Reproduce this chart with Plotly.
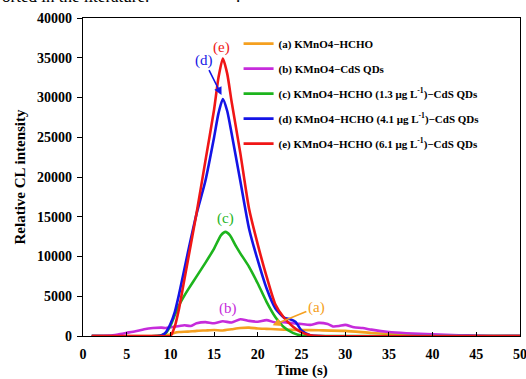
import plotly.graph_objects as go

# ---- data ----
time_a = [1, 8, 9, 10, 10.5, 11, 12, 13, 14, 15, 16, 17, 18, 19, 20, 21, 22, 23, 25, 27, 30, 33, 35, 38, 40, 45, 50]
val_a = [0, 0, 50, 200, 400, 500, 550, 650, 700, 750, 700, 850, 1000, 1050, 950, 900, 850, 800, 750, 720, 650, 380, 250, 100, 30, 0, 0]

time_b = [1, 3, 4, 5, 6, 7, 8, 9, 9.5, 10, 11, 11.6, 12.3, 13, 14, 15, 16, 17, 18, 19, 20, 21, 22, 23, 24, 25, 26, 27,
          28, 28.6, 29.3, 30, 31, 32, 33, 35, 37, 40, 43, 45, 47, 50]
val_b = [0, 50, 200, 400, 600, 850, 1000, 1050, 1000, 1100, 1250, 1350, 1250, 1600, 1750, 1600, 1850, 1700, 2100, 1900, 1800, 2000, 1700, 1750, 1600, 1500, 1400, 1650,
         1500, 1200, 1250, 1400, 1100, 1000, 800, 500, 350, 200, 100, 50, 0, 0]

time_c = [1, 8.5, 9, 9.5, 10, 10.5, 11, 11.5, 12, 13, 14, 15, 15.8, 16.3, 16.8, 17.5, 18, 19, 20, 21, 22, 23, 24, 25, 26, 50]
val_c = [0, 0, 100, 400, 1300, 2600, 3900, 4900, 5800, 7500, 9200, 11000, 12700, 13100, 12700, 11300, 10400, 8700, 6600, 4300, 2400, 1100, 400, 50, 0, 0]

time_d = [1, 8.5, 9, 9.5, 10, 10.5, 11, 12, 13, 14, 15, 15.5, 16, 16.5, 17, 18, 19, 20, 21, 22, 23, 23.7, 24.3, 25, 26, 27, 50]
val_d = [0, 0, 100, 500, 1500, 3000, 5300, 10500, 15400, 19500, 25000, 28000, 29800, 28300, 25500, 19500, 13500, 9500, 6000, 3500, 2300, 2100, 1800, 700, 100, 0, 0]

time_e = [1, 9, 10, 10.5, 11, 11.5, 12, 13, 14, 15, 15.5, 16, 16.5, 17, 18, 19, 20, 21, 22, 23, 24, 25, 26, 27, 50]
val_e = [0, 0, 0, 1200, 3500, 6500, 9500, 15500, 22000, 28500, 32500, 34900, 33000, 29500, 23000, 16000, 11500, 7500, 4000, 2300, 1200, 450, 100, 0, 0]

names = [
    "(a) KMnO4−HCHO",
    "(b) KMnO4−CdS QDs",
    "(c) KMnO4−HCHO (1.3 μg L<sup>-1</sup>)−CdS QDs",
    "(d) KMnO4−HCHO (4.1 μg L<sup>-1</sup>)−CdS QDs",
    "(e) KMnO4−HCHO (6.1 μg L<sup>-1</sup>)−CdS QDs",
]
colors = ["#F5A020", "#C62BDB", "#1DB41D", "#1414E6", "#F01616"]
series = [(time_a, val_a), (time_b, val_b), (time_c, val_c), (time_d, val_d), (time_e, val_e)]

x_ticks = [0, 5, 10, 15, 20, 25, 30, 35, 40, 45, 50]
y_ticks = [0, 5000, 10000, 15000, 20000, 25000, 30000, 35000, 40000]

FONT = "Liberation Serif, Times New Roman, serif"

fig = go.Figure()
for i, ((tx, ty), nm, col) in enumerate(zip(series, names, colors)):
    fig.add_trace(go.Scatter(
        x=tx, y=ty, mode="lines", name=nm, legendgroup=str(i),
        line=dict(color=col, width=2.6, shape="spline", smoothing=0.6),
    ))

ann_font = dict(family=FONT, size=15)
annotations = [
    dict(x=15.9, y=36250, text="(e)", showarrow=False, font=dict(ann_font, color=colors[4])),
    dict(x=15.85, y=30300, ax=13.85, ay=34700, axref="x", ayref="y", text="(d)", showarrow=True,
         arrowhead=2, arrowsize=1, arrowwidth=1.6, arrowcolor=colors[3], font=dict(ann_font, color=colors[3])),
    dict(x=16.25, y=14750, text="(c)", showarrow=False, font=dict(ann_font, color=colors[2])),
    dict(x=16.6, y=3440, text="(b)", showarrow=False, font=dict(ann_font, color=colors[1])),
    dict(x=21.7, y=1350, ax=26.7, ay=3600, axref="x", ayref="y", text="(a)", showarrow=True,
         arrowhead=2, arrowsize=1, arrowwidth=1.6, arrowcolor=colors[0], font=dict(ann_font, color=colors[0])),
    dict(x=-0.19, y=1.032, xref="paper", yref="paper", xanchor="left", yanchor="bottom",
         text="orted in the literature.", showarrow=False, font=dict(family=FONT, size=17, color="black")),
    dict(x=0.345, y=1.032, xref="paper", yref="paper", xanchor="left", yanchor="bottom",
         text=".", showarrow=False, font=dict(family=FONT, size=17, color="black")),
]

fig.update_layout(
    width=526, height=379,
    margin=dict(l=83, r=6, t=18, b=43, autoexpand=False),
    paper_bgcolor="white", plot_bgcolor="white",
    font=dict(family=FONT, color="black"),
    showlegend=True,
    legend=dict(x=0.356, y=0.965, xanchor="left", yanchor="top",
                bgcolor="rgba(0,0,0,0)", borderwidth=0,
                font=dict(family=FONT, size=11, color="black", weight="bold"),
                itemwidth=30, traceorder="grouped", tracegroupgap=6),
    annotations=annotations,
)
fig.update_xaxes(
    range=[0, 50], tickvals=x_ticks, ticks="inside", ticklen=4, tickcolor="black",
    showline=True, linecolor="black", linewidth=1.3, mirror=True, showgrid=False, zeroline=False,
    tickfont=dict(family=FONT, size=14, weight="bold"), ticklabelstandoff=5, ticklabeloverflow="allow",
    automargin=False,
    title=dict(text="Time (s)", font=dict(family=FONT, size=15, weight="bold"), standoff=9),
)
fig.update_yaxes(
    range=[0, 40000], tickvals=y_ticks, tickformat="d", ticks="outside", ticklen=5, tickcolor="black",
    showline=True, linecolor="black", linewidth=1.3, mirror=True, showgrid=False, zeroline=False,
    tickfont=dict(family=FONT, size=14, weight="bold"), ticklabelstandoff=2,
    automargin=False,
    title=dict(text="Relative CL intensity", font=dict(family=FONT, size=15, weight="bold"), standoff=7),
)

fig.write_html("out.html")
